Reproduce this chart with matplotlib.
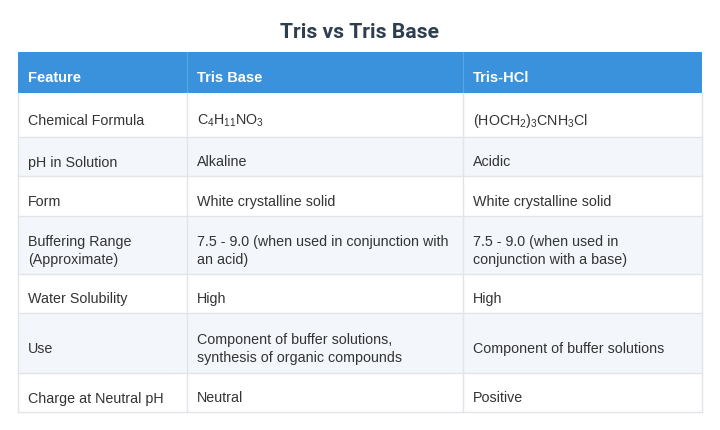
import matplotlib
matplotlib.use("Agg")
import matplotlib.pyplot as plt
from matplotlib.patches import Rectangle

plt.rcParams['font.family'] = ['Liberation Sans', 'DejaVu Sans']
plt.rcParams['mathtext.fontset'] = 'custom'
plt.rcParams['mathtext.rm'] = 'Liberation Sans'
plt.rcParams['mathtext.it'] = 'Liberation Sans'
plt.rcParams['mathtext.default'] = 'regular'

title = "Tris vs Tris Base"
headers = ["Feature", "Tris Base", "Tris-HCl"]
features = ["Chemical Formula", "pH in Solution", "Form", "Buffering Range\n(Approximate)",
            "Water Solubility", "Use", "Charge at Neutral pH"]
tris_base = [r"C$_4$H$_{11}$NO$_3$", "Alkaline", "White crystalline solid",
             "7.5 - 9.0 (when used in conjunction with\nan acid)", "High",
             "Component of buffer solutions,\nsynthesis of organic compounds", "Neutral"]
tris_hcl = [r"(HOCH$_2$)$_3$CNH$_3$Cl", "Acidic", "White crystalline solid",
            "7.5 - 9.0 (when used in\nconjunction with a base)", "High",
            "Component of buffer solutions", "Positive"]

col_x = [18, 187, 463, 702]
row_y = [52, 93, 137, 176, 216, 274, 313, 373, 412]

fig = plt.figure(figsize=(7.2, 4.3), dpi=100)
ax = fig.add_axes([0, 0, 1, 1])
ax.set_xlim(0, 720)
ax.set_ylim(430, 0)
ax.axis('off')

ax.text(360, 33, title, ha='center', va='center', fontsize=15.2, fontweight='bold',
        color='#2c3e50', family=['Roboto', 'DejaVu Sans'])

# header
ax.add_patch(Rectangle((col_x[0], row_y[0]), col_x[-1]-col_x[0], row_y[1]-row_y[0],
                       facecolor='#3a92dc', edgecolor='none'))
for j, h in enumerate(headers):
    ax.text(col_x[j]+10, (row_y[0]+row_y[1])/2 + 6, h, ha='left', va='center',
            fontsize=10.5, fontweight='bold', color='white')
    if j > 0:
        ax.plot([col_x[j]]*2, [row_y[0], row_y[1]], color='#5aa6e4', lw=0.8)

cols = [features, tris_base, tris_hcl]
for i in range(len(features)):
    y0, y1 = row_y[i+1], row_y[i+2]
    fc = '#f3f6fa' if i % 2 == 1 else 'white'
    ax.add_patch(Rectangle((col_x[0], y0), col_x[-1]-col_x[0], y1-y0,
                           facecolor=fc, edgecolor='none'))
    ax.plot([col_x[0], col_x[-1]], [y1, y1], color='#e1e5ea', lw=1)
    for j in range(3):
        ax.text(col_x[j]+10, (y0+y1)/2 + 6, cols[j][i], ha='left', va='center',
                fontsize=10.3, color='#333333', linespacing=1.45)
for x in col_x:
    ax.plot([x, x], [row_y[1], row_y[-1]], color='#e1e5ea', lw=1)

fig.savefig("out.png", dpi=100)
